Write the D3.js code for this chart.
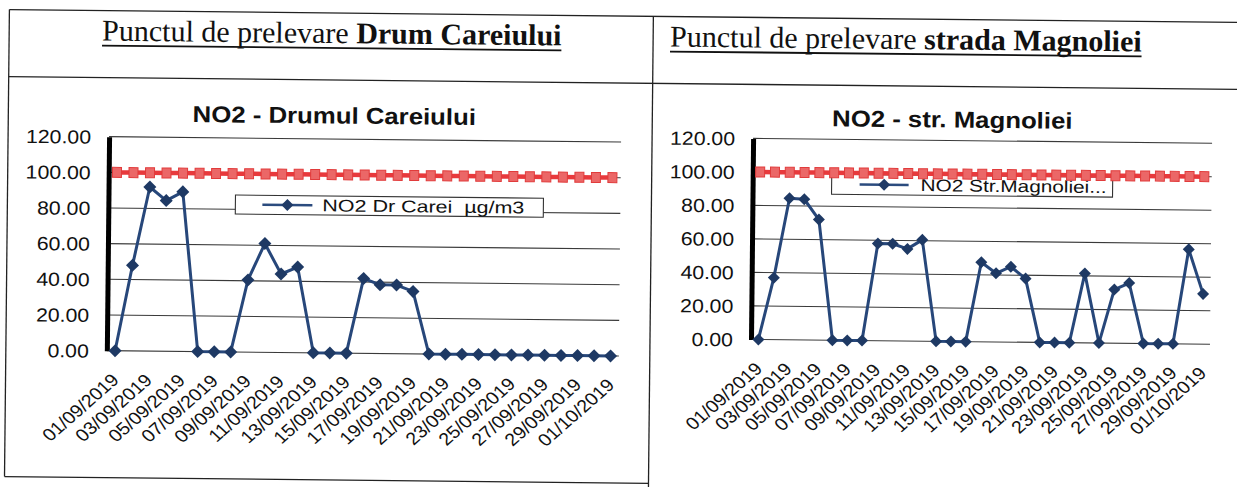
<!DOCTYPE html>
<html><head><meta charset="utf-8">
<script src="https://cdn.jsdelivr.net/npm/d3@7"></script>
<style>body{margin:0;background:#fff}svg{display:block}text{white-space:pre}</style>
</head><body><svg id="c" width="1237" height="487"></svg>
<script>
// ---------- DATA ----------
const categories = ["01/09/2019","02/09/2019","03/09/2019","04/09/2019","05/09/2019","06/09/2019","07/09/2019","08/09/2019","09/09/2019","10/09/2019","11/09/2019","12/09/2019","13/09/2019","14/09/2019","15/09/2019","16/09/2019","17/09/2019","18/09/2019","19/09/2019","20/09/2019","21/09/2019","22/09/2019","23/09/2019","24/09/2019","25/09/2019","26/09/2019","27/09/2019","28/09/2019","29/09/2019","30/09/2019","01/10/2019"];
const tickLabels = ["01/09/2019","03/09/2019","05/09/2019","07/09/2019","09/09/2019","11/09/2019","13/09/2019","15/09/2019","17/09/2019","19/09/2019","21/09/2019","23/09/2019","25/09/2019","27/09/2019","29/09/2019","01/10/2019"];
const no2DrumCareiului = [0,48,92,84.5,89.5,0,0,0,40.5,61,44,48,0,0,0,42,38.5,38.5,35,0,0,0,0,0,0,0,0,0,0,0,0];
const no2Magnoliei = [0,37,84.5,84,72,0,0,0,58,58,55,60.5,0,0,0,47.5,41,45,38,0,0,0,41.5,0,32,36,0,0,0,56.5,30];
const limitValue = [100,100,100,100,100,100,100,100,100,100,100,100,100,100,100,100,100,100,100,100,100,100,100,100,100,100,100,100,100,100,100];
const yTicks = [0,20,40,60,80,100,120];
const headers = [
  {normal:"Punctul de prelevare ", bold:"Drum Careiului"},
  {normal:"Punctul de prelevare ", bold:"strada Magnoliei"}
];
const chartTitles = ["NO2 - Drumul Careiului","NO2 - str. Magnoliei"];
const legendLabels = ["NO2 Dr Carei  \u00b5g/m3","NO2 Str.Magnoliei..."];

// ---------- DRAW ----------
const SANS = "'Liberation Sans', Arial, sans-serif";
const SERIF = "'Liberation Serif', 'Times New Roman', serif";
const SX = 1.12;
const svg = d3.select("#c");
const root = svg.append("g").attr("transform","rotate(0.6,618,243)");

function rule(x1,y1,x2,y2){
  root.append("line").attr("x1",x1).attr("y1",y1).attr("x2",x2).attr("y2",y2)
    .attr("stroke","#222").attr("stroke-width",1.3);
}
rule(7,16,1240,16); rule(7,83,1240,83); rule(7,16,7,483); rule(651,16,651,490); rule(7,483,651,483);

function header(x,y,h){
  const t = root.append("text").attr("x",x).attr("y",y)
    .attr("font-family",SERIF).attr("font-size",30).attr("fill","#111");
  t.append("tspan").text(h.normal);
  t.append("tspan").attr("font-weight","bold").text(h.bold);
  const w = t.node().getComputedTextLength();
  root.append("line").attr("x1",x).attr("x2",x+w).attr("y1",y+5).attr("y2",y+5)
    .attr("stroke","#111").attr("stroke-width",1.8);
}
header(100,46,headers[0]);
header(668,46,headers[1]);

const diamond = r => `M0,${-r}L${r},0L0,${r}L${-r},0Z`;

function drawChart(o){
  const g = root.append("g");
  const x = d3.scalePoint().domain(categories).range([o.x0,o.x1]).padding(0.5);
  const y = d3.scaleLinear().domain([0,120]).range([o.y0,o.y1]);

  // title
  g.append("text").attr("transform",`translate(${o.tx},${o.ty}) scale(${SX},1)`)
    .attr("text-anchor","middle").attr("font-family",SANS).attr("font-weight","bold")
    .attr("font-size",23).attr("fill","#111").text(o.title);

  // gridlines
  g.append("g").selectAll("line").data(yTicks).join("line")
    .attr("x1",o.x0).attr("x2",o.x1).attr("y1",d=>y(d)).attr("y2",d=>y(d))
    .attr("stroke","#3a3a3a").attr("stroke-width",1.1);

  // y axis
  const ya = g.append("g").attr("transform",`translate(${o.x0},0)`)
    .call(d3.axisLeft(y).tickValues(yTicks).tickFormat(d3.format(".2f")).tickSize(0).tickPadding(0));
  ya.select(".domain").attr("stroke","#000").attr("stroke-width",5);
  ya.selectAll("text").attr("x",0).attr("dy","0.35em")
    .attr("transform",`translate(${-o.gap},0) scale(${SX},1)`)
    .attr("font-family",SANS).attr("font-size",19).attr("fill","#111");

  // x axis labels
  const xa = g.append("g").attr("transform",`translate(0,${o.y0})`)
    .call(d3.axisBottom(x).tickValues(tickLabels).tickSize(0));
  xa.select(".domain").remove();
  xa.selectAll("text").attr("x",0).attr("y",0).attr("dy","0.35em")
    .attr("text-anchor","end")
    .attr("transform",`translate(0,26) scale(${SX},1) rotate(-45)`)
    .attr("font-family",SANS).attr("font-size",17.5).attr("fill","#111");

  // legend
  const L = o.legend;
  g.append("rect").attr("x",L.x).attr("y",L.y).attr("width",L.w).attr("height",L.h)
    .attr("fill","#fff").attr("stroke","#333").attr("stroke-width",1.1);
  const ly = L.y + L.h/2;
  g.append("line").attr("x1",L.lx1).attr("x2",L.lx2).attr("y1",ly).attr("y2",ly)
    .attr("stroke","#2b4b7e").attr("stroke-width",2.5);
  g.append("path").attr("d",diamond(6)).attr("transform",`translate(${(L.lx1+L.lx2)/2},${ly})`)
    .attr("fill","#1f3a66");
  g.append("text").attr("x",L.tx).attr("y",ly).attr("dy","0.35em")
    .attr("textLength",L.tw).attr("lengthAdjust","spacingAndGlyphs")
    .attr("font-family",SANS).attr("font-size",17).attr("fill","#111").text(o.legendLabel);

  const line = d3.line().x((d,i)=>x(categories[i])).y(d=>y(d));

  // limit series (red, squares)
  g.append("path").datum(limitValue).attr("d",line).attr("fill","none")
    .attr("stroke","#e8393c").attr("stroke-width",4.5);
  g.append("g").selectAll("rect").data(limitValue).join("rect")
    .attr("x",(d,i)=>x(categories[i])-4.5).attr("y",d=>y(d)-5)
    .attr("width",9).attr("height",10)
    .attr("fill","#eb6767").attr("stroke","#e13b3b").attr("stroke-width",1);

  // NO2 series (blue, diamonds)
  g.append("path").datum(o.values).attr("d",line).attr("fill","none")
    .attr("stroke","#27477a").attr("stroke-width",3).attr("stroke-linejoin","round");
  g.append("g").selectAll("path").data(o.values).join("path")
    .attr("d",diamond(o.r))
    .attr("transform",(d,i)=>`translate(${x(categories[i])},${y(d)})`)
    .attr("fill","#1e3964");
}

drawChart({x0:108,x1:620,y0:356,y1:142,tx:333,ty:126.5,gap:18,r:6.5,
  title:chartTitles[0],values:no2DrumCareiului,legendLabel:legendLabels[0],
  legend:{x:235,y:199,w:308,h:19,lx1:262,lx2:312,tx:322,tw:202}});
drawChart({x0:752,x1:1211,y0:338,y1:137,tx:951,ty:124,gap:18,r:6,
  title:chartTitles[1],values:no2Magnoliei,legendLabel:legendLabels[1],
  legend:{x:831,y:172,w:281,h:20,lx1:859,lx2:908,tx:920,tw:186}});
</script></body></html>
